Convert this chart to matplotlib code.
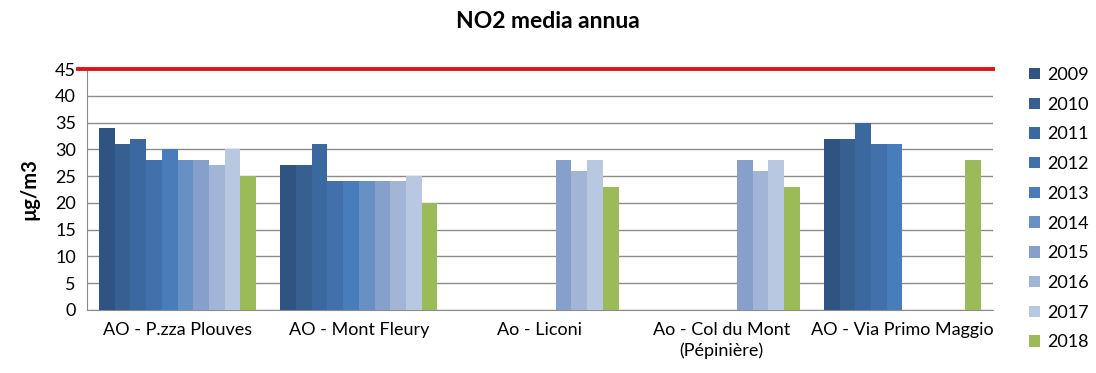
import matplotlib
matplotlib.use("Agg")
import matplotlib.pyplot as plt
import numpy as np

plt.rcParams['font.family'] = ['Lato', 'DejaVu Sans']

stations = ["AO - P.zza Plouves", "AO - Mont Fleury", "Ao - Liconi",
            "Ao - Col du Mont\n(Pépinière)", "AO - Via Primo Maggio"]
years = ["2009", "2010", "2011", "2012", "2013", "2014", "2015", "2016", "2017", "2018"]
nan = np.nan
values = {
    "2009": [34, 27, nan, nan, 32],
    "2010": [31, 27, nan, nan, 32],
    "2011": [32, 31, nan, nan, 35],
    "2012": [28, 24, nan, nan, 31],
    "2013": [30, 24, nan, nan, 31],
    "2014": [28, 24, nan, nan, nan],
    "2015": [28, 24, 28, 28, nan],
    "2016": [27, 24, 26, 26, nan],
    "2017": [30, 25, 28, 28, nan],
    "2018": [25, 20, 23, 23, 28],
}
limit_value = 45
colors = ["#2F5481", "#375F90", "#3C68A0", "#4270AA", "#497CBA",
          "#6790C4", "#86A0CB", "#A2B5D6", "#B9C8E1", "#9BBB59"]

fig = plt.figure(figsize=(10.96, 3.73), dpi=100)
ax = fig.add_axes([0.0794, 0.169, 0.8266, 0.646])

x = np.arange(len(stations))
n = len(years)
bw = 0.0867
for i, (yr, c) in enumerate(zip(years, colors)):
    ax.bar(x + (i - (n - 1) / 2) * bw, values[yr], width=bw, color=c,
           label=yr, zorder=3)

ax.set_xlim(-0.5, len(stations) - 0.5)
ax.set_ylim(0, 45)
ax.set_yticks(np.arange(0, 46, 5))
ax.yaxis.grid(True, color="#8c8c8c", linewidth=1.0, zorder=0)
ax.set_axisbelow(True)
ax.plot([-0.01, 1.0], [limit_value, limit_value], transform=ax.get_yaxis_transform(),
        color="#E3101B", linewidth=2.8, clip_on=False, zorder=5)

for s in ["top", "right"]:
    ax.spines[s].set_visible(False)
for s in ["left", "bottom"]:
    ax.spines[s].set_color("#8c8c8c")
ax.tick_params(axis="both", length=0, labelsize=13, colors="black")
ax.tick_params(axis="y", pad=8)
ax.tick_params(axis="x", pad=9)
ax.set_xticks(x)
ax.set_xticklabels(stations, linespacing=1.3)
ax.set_ylabel("µg/m3", fontsize=14.5, fontweight="bold", labelpad=11)

fig.suptitle("NO2 media annua", fontsize=16.5, fontweight="bold", y=0.97)

leg = ax.legend(loc="upper left", bbox_to_anchor=(0.932, 0.84), bbox_transform=fig.transFigure,
                frameon=False, fontsize=13, handlelength=0.6, handleheight=0.6,
                handletextpad=0.45, labelspacing=0.76, borderaxespad=0)

fig.savefig("out.png", dpi=100)
